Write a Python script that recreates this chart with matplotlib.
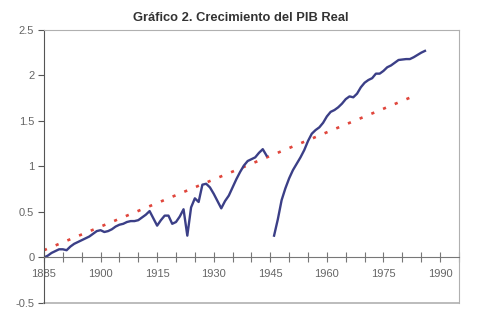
import numpy as np
import matplotlib
matplotlib.use('Agg')
import matplotlib.pyplot as plt
from matplotlib.ticker import FixedLocator, FuncFormatter

# PIB real (log, relativo a 1885); se corta en 1945
years = list(range(1885, 1987))
pib = [0.00, 0.02, 0.05, 0.07, 0.09, 0.09, 0.08, 0.12, 0.15, 0.17,
       0.19, 0.21, 0.23, 0.26, 0.29, 0.30, 0.28, 0.29, 0.31, 0.34,
       0.36, 0.37, 0.39, 0.40, 0.40, 0.41, 0.44, 0.47, 0.51, 0.43,
       0.35, 0.41, 0.46, 0.46, 0.37, 0.39, 0.45, 0.53, 0.24, 0.55,
       0.65, 0.61, 0.80, 0.81, 0.77, 0.70, 0.62, 0.54, 0.62, 0.68,
       0.77, 0.86, 0.94, 1.01, 1.06, 1.08, 1.10, 1.15, 1.19, 1.12,
       np.nan, 0.24, 0.42, 0.63, 0.76, 0.87, 0.96, 1.03, 1.10, 1.18,
       1.28, 1.36, 1.40, 1.43, 1.48, 1.55, 1.60, 1.62, 1.65, 1.69,
       1.74, 1.77, 1.76, 1.80, 1.87, 1.92, 1.95, 1.97, 2.02, 2.02,
       2.05, 2.09, 2.11, 2.14, 2.17, 2.175, 2.18, 2.18, 2.20, 2.225,
       2.25, 2.27]

trend_years = [1885, 1984]
trend_vals = [0.08, 1.79]

blue = '#3b3f87'
red = '#e0463c'

plt.rcParams['font.family'] = ['Liberation Sans', 'DejaVu Sans']

fig = plt.figure(figsize=(4.87, 3.27), dpi=100)
ax = fig.add_axes([0.0903, 0.0734, 0.852, 0.835])

ax.plot(trend_years, trend_vals, color=red, lw=1.9,
        linestyle=(0, (1.2, 3.6)), dash_capstyle='butt')
ax.plot(years, pib, color=blue, lw=1.7, solid_joinstyle='round')

ax.set_xlim(1885, 1995)
ax.set_ylim(-0.5, 2.5)

# eje x en y=0, marco gris alrededor
ax.spines['bottom'].set_position(('data', 0))
ax.spines['bottom'].set_color('#777777')
ax.spines['left'].set_color('#555555')
ax.spines['top'].set_color('#b0b0b0')
ax.spines['right'].set_color('#b0b0b0')
ax.axhline(-0.5, color='#b0b0b0', lw=1.2, clip_on=False)

ax.xaxis.set_major_locator(FixedLocator(list(range(1885, 1996, 5))))
ax.xaxis.set_major_formatter(FuncFormatter(
    lambda v, p: str(int(v)) if (int(v) - 1885) % 15 == 0 else ''))
ax.tick_params(axis='x', direction='inout', length=7, width=0.8,
               color='#777777', labelsize=8, labelcolor='#666666', pad=5)

ax.set_yticks([-0.5, 0, 0.5, 1, 1.5, 2, 2.5])
ax.set_yticklabels(['-0.5', '0', '0.5', '1', '1.5', '2', '2.5'])
ax.tick_params(axis='y', direction='out', length=4, width=0.8,
               color='#555555', labelsize=8, labelcolor='#666666', pad=3)

fig.text(0.494, 0.946, 'Gráfico 2. Crecimiento del PIB Real', ha='center',
         va='center', fontsize=9.3, fontweight='bold', color='#333333')

fig.savefig('out.png', dpi=100)
